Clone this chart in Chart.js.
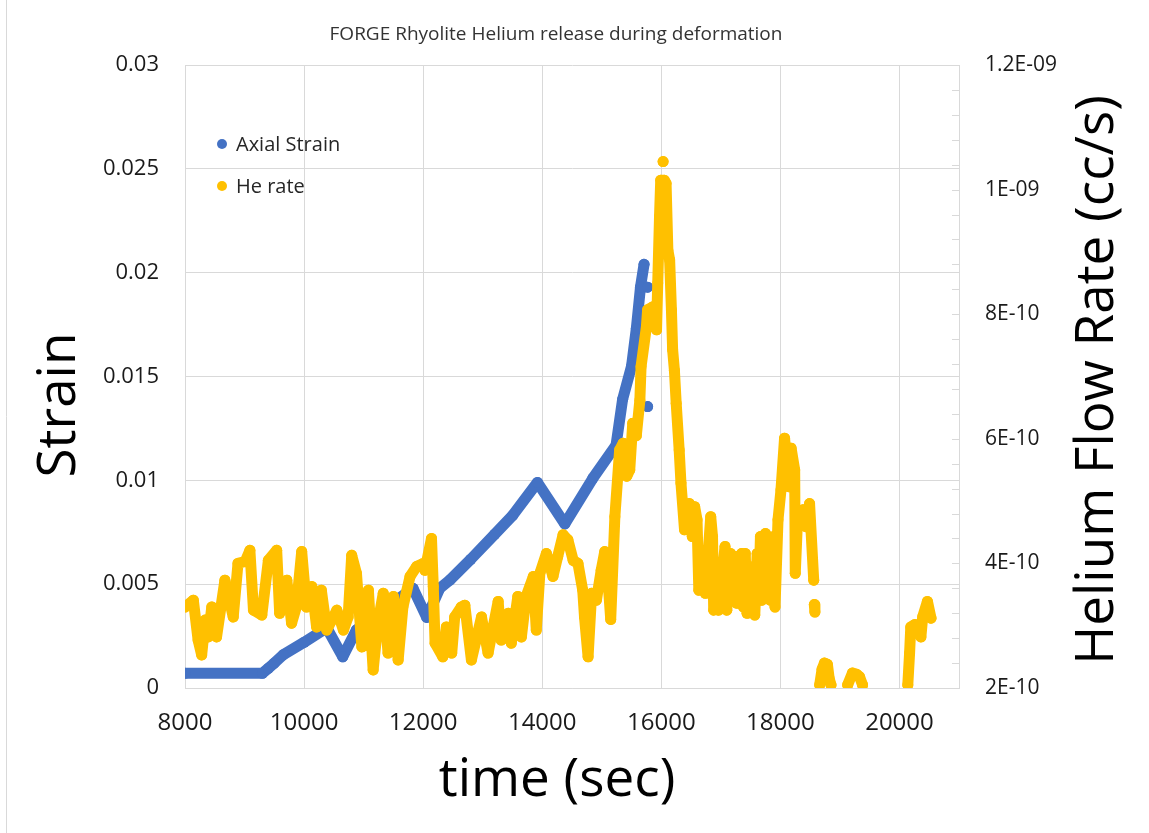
<!DOCTYPE html>
<html>
<head>
<meta charset="utf-8">
<script src="https://cdn.jsdelivr.net/npm/chart.js@4.4.1/dist/chart.umd.min.js"></script>
<style>
  html, body { margin: 0; padding: 0; background: #fff; }
  #wrap { width: 1149px; height: 833px; }
</style>
</head>
<body>
<div id="wrap"><canvas id="chart" width="1149" height="833"></canvas></div>
<script>
// time axis ticks (sec)
const timeTicks = [8000, 10000, 12000, 14000, 16000, 18000, 20000];
// left axis ticks (strain)
const strainTicks = [0, 0.005, 0.01, 0.015, 0.02, 0.025, 0.03];
const strainTickLabels = ['0', '0.005', '0.01', '0.015', '0.02', '0.025', '0.03'];
// right axis ticks (cc/s)
const heTicks = [2e-10, 4e-10, 6e-10, 8e-10, 1e-9, 1.2e-9];
const heTickLabels = ['2E-10', '4E-10', '6E-10', '8E-10', '1E-09', '1.2E-09'];

// Axial strain (null = break)
const strainTime = [8000, 9300, 9400, 9500, 9650, 10000, 10380, 10650, 10880, 11300, 11830, 12060, 12280, 12450,
  12800, 13200, 13500, 13920, 14380, 14850, 15240, 15350, 15500, 15580, 15650, 15710,
  15740, 15770, 15770, 15770, 15770];
const axialStrain = [0.00071, 0.00071, 0.00095, 0.0012, 0.0016, 0.0022, 0.0029, 0.0015, 0.0028, 0.0037, 0.0048, 0.0034, 0.0048, 0.0052,
  0.0062, 0.0074, 0.0083, 0.0099, 0.0079, 0.0101, 0.0117, 0.0139, 0.0155, 0.0173, 0.0193, 0.0204,
  null, 0.0193, null, 0.01355, null];

// He rate in units of 1E-10 cc/s (null = break in the record)
const heTime = [8000, 8140, 8220, 8280, 8340, 8390, 8450, 8530, 8670, 8810, 8890, 9010, 9090, 9150, 9290, 9400,
  9540, 9590, 9710, 9790, 9870, 9960, 10040, 10130, 10210, 10290, 10380, 10550, 10660, 10740, 10800, 10880,
  10970, 11080, 11160, 11240, 11330, 11410, 11500, 11580, 11660, 11780, 11890, 12000, 12030, 12140, 12170,
  12200, 12330, 12390, 12480, 12530, 12640, 12700, 12810, 12980, 13090, 13260, 13310, 13430, 13480, 13590,
  13650, 13730, 13850, 13900, 13960, 14070, 14180, 14260, 14350, 14430, 14520, 14600, 14680, 14710, 14770,
  14830, 14910, 14990, 15050, 15100, 15150, 15220, 15300, 15360, 15420, 15470, 15520, 15580, 15640, 15660,
  15750, 15770, 15860, 15920, 15940, 15970, 15990, 16050, 16080, 16110, 16140, 16170, 16190, 16220, 16250,
  16300, 16330, 16390, 16470, 16520, 16560, 16600, 16630, 16700, 16740, 16830, 16860, 16880, 16930, 16960,
  17070, 17100, 17160, 17190, 17240, 17270, 17350, 17380, 17410, 17440, 17550, 17570, 17610, 17635, 17665,
  17690, 17750, 17770, 17810, 17830, 17890, 17910, 17960, 18010, 18070, 18150, 18180, 18240, 18250, 18290,
  18380, 18430, 18490, 18560, 18565, 18570, 18580, 18620, 18660, 18700, 18740, 18790, 18820, 18850, 19000,
  19130, 19210, 19280, 19330, 19380, 19800, 20140, 20170, 20190, 20260, 20330, 20360, 20390, 20470, 20530,
  16030, 16030];
const heRate = [3.30, 3.41, 2.77, 2.53, 3.09, 2.82, 3.30, 2.82, 3.73, 3.14, 4.00, 4.03, 4.21, 3.25, 3.17, 4.05,
  4.21, 3.20, 3.73, 3.04, 3.30, 4.19, 3.30, 3.63, 2.98, 3.57, 2.93, 3.25, 2.93, 3.14, 4.13, 3.84,
  2.66, 3.57, 2.29, 3.04, 3.52, 2.56, 3.47, 2.45, 3.30, 3.79, 3.95, 4.00, 3.89, 4.40, 3.63,
  2.72, 2.50, 2.98, 2.56, 3.14, 3.30, 3.33, 2.45, 3.14, 2.56, 3.39, 2.77, 3.20, 2.72, 3.47,
  2.82, 3.47, 3.79, 2.93, 3.84, 4.16, 3.79, 4.11, 4.46, 4.38, 4.05, 4.00, 3.57, 3.14, 2.50,
  3.52, 3.41, 3.89, 4.19, 3.79, 3.10, 4.75, 5.82, 5.93, 5.40, 5.50, 6.25, 6.05, 6.62, 7.16,
  7.80, 8.07, 8.12, 7.75, 8.50, 9.57, 10.15, 10.15, 10.10, 9.03, 8.87, 8.07, 7.43, 7.10, 6.57,
  5.82, 5.29, 4.54, 4.96, 4.43, 4.91, 4.70, 3.57, 4.16, 3.52, 4.75, 4.43, 3.25, 3.95, 3.25,
  4.27, 3.25, 4.16, 3.41, 4.11, 3.36, 4.16, 3.30, 4.16, 3.20, 3.95, 3.17, 4.16, 3.41, 4.43,
  3.41, 4.48, 3.95, 3.95, 3.41, 4.43, 3.30, 4.70, 5.18, 6.01, 5.23, 5.85, 5.50, 3.84, 4.75,
  4.86, 4.59, 4.96, 3.73, null, 3.34, 3.22, null, 2.05, 2.30, 2.40, 2.38, 2.15, 2.05, null,
  2.05, 2.24, 2.22, 2.18, 2.05, null, 2.05, 2.56, 2.98, 3.02, 3.00, 2.82, 3.14, 3.39, 3.12,
  null, 10.45];

const BLUE = '#4472C4';
const GOLD = '#FFC000';
const GRID = '#d9d9d9';
const FONT = "'Open Sans', sans-serif";

const strainPoints = strainTime.map((t, i) => ({ x: t, y: axialStrain[i] }));
const hePoints = heTime.map((t, i) => ({ x: t, y: heRate[i] === null ? null : heRate[i] * 1e-10 }));

const decor = {
  id: 'decor',
  afterDraw(chart) {
    const ctx = chart.ctx;
    const yR = chart.scales.yHe;
    const area = chart.chartArea;
    ctx.save();
    // minor ticks on the right axis, pointing inward
    ctx.strokeStyle = GRID;
    ctx.lineWidth = 1;
    ctx.beginPath();
    for (let k = 0; k <= 25; k++) {
      const py = Math.round(yR.getPixelForValue(2e-10 + k * 0.4e-10)) + 0.5;
      ctx.moveTo(area.right - 7, py);
      ctx.lineTo(area.right, py);
    }
    ctx.stroke();

    // outer chart border on the left
    ctx.beginPath();
    ctx.moveTo(6.5, 0);
    ctx.lineTo(6.5, 833);
    ctx.stroke();

    // chart title
    ctx.fillStyle = '#333';
    ctx.font = '19px ' + FONT;
    ctx.textAlign = 'center';
    ctx.textBaseline = 'middle';
    ctx.fillText('FORGE Rhyolite Helium release during deformation', 556, 35);

    // axis titles
    ctx.fillStyle = '#000';
    ctx.font = '53px ' + FONT;
    ctx.textBaseline = 'alphabetic';
    ctx.fillText('time (sec)', 557, 796);

    ctx.save();
    ctx.translate(75, 405);
    ctx.rotate(-Math.PI / 2);
    ctx.fillText('Strain', 0, 0);
    ctx.restore();

    ctx.save();
    ctx.translate(1113, 380);
    ctx.rotate(-Math.PI / 2);
    ctx.fillText('Helium Flow Rate (cc/s)', 0, 0);
    ctx.restore();

    // legend inside the plot
    const items = [['Axial Strain', BLUE, 144], ['He rate', GOLD, 186]];
    ctx.font = '20px ' + FONT;
    ctx.textAlign = 'left';
    ctx.textBaseline = 'middle';
    items.forEach(([label, color, y]) => {
      ctx.fillStyle = color;
      ctx.beginPath();
      ctx.arc(222, y, 5, 0, Math.PI * 2);
      ctx.fill();
      ctx.fillStyle = '#262626';
      ctx.fillText(label, 236, y + 1);
    });
    ctx.restore();
  }
};

new Chart(document.getElementById('chart'), {
  type: 'line',
  data: {
    datasets: [
      {
        label: 'Axial Strain',
        data: strainPoints,
        yAxisID: 'yStrain',
        borderColor: BLUE,
        backgroundColor: BLUE,
        borderWidth: 11,
        borderCapStyle: 'round',
        borderJoinStyle: 'round',
        pointRadius: 5.5,
        pointBorderWidth: 0,
        pointBackgroundColor: BLUE,
        tension: 0,
        order: 2
      },
      {
        label: 'He rate',
        data: hePoints,
        yAxisID: 'yHe',
        borderColor: GOLD,
        backgroundColor: GOLD,
        borderWidth: 11,
        borderCapStyle: 'round',
        borderJoinStyle: 'round',
        pointRadius: 5.5,
        pointBorderWidth: 0,
        pointBackgroundColor: GOLD,
        tension: 0,
        order: 1
      }
    ]
  },
  options: {
    responsive: false,
    animation: false,
    events: [],
    layout: { padding: { top: 65, left: 0, right: 0, bottom: 0 } },
    plugins: {
      legend: { display: false },
      title: { display: false },
      tooltip: { enabled: false }
    },
    scales: {
      x: {
        type: 'linear',
        min: 8000,
        max: 21000,
        afterBuildTicks: (scale) => { scale.ticks = timeTicks.map(v => ({ value: v })); },
        afterFit: (scale) => { scale.height = 145; },
        grid: { color: GRID, drawTicks: false },
        border: { color: GRID },
        ticks: {
          padding: 21,
          color: '#1a1a1a',
          font: { family: FONT, size: 24 },
          maxRotation: 0,
          callback: (v) => String(v)
        }
      },
      yStrain: {
        type: 'linear',
        position: 'left',
        min: 0,
        max: 0.03,
        afterBuildTicks: (scale) => { scale.ticks = strainTicks.map(v => ({ value: v })); },
        afterFit: (scale) => { scale.width = 185; },
        grid: { color: GRID, drawTicks: false },
        border: { color: GRID },
        ticks: {
          padding: 26,
          color: '#1a1a1a',
          font: { family: FONT, size: 22 },
          callback: (v, i) => strainTickLabels[i]
        }
      },
      yHe: {
        type: 'linear',
        position: 'right',
        min: 2e-10,
        max: 1.2e-9,
        afterBuildTicks: (scale) => { scale.ticks = heTicks.map(v => ({ value: v })); },
        afterFit: (scale) => { scale.width = 190; },
        grid: { display: false, drawTicks: false },
        border: { color: GRID },
        ticks: {
          padding: 26,
          color: '#1a1a1a',
          font: { family: FONT, size: 21 },
          callback: (v, i) => heTickLabels[i]
        }
      }
    }
  },
  plugins: [decor]
});
</script>
</body>
</html>
